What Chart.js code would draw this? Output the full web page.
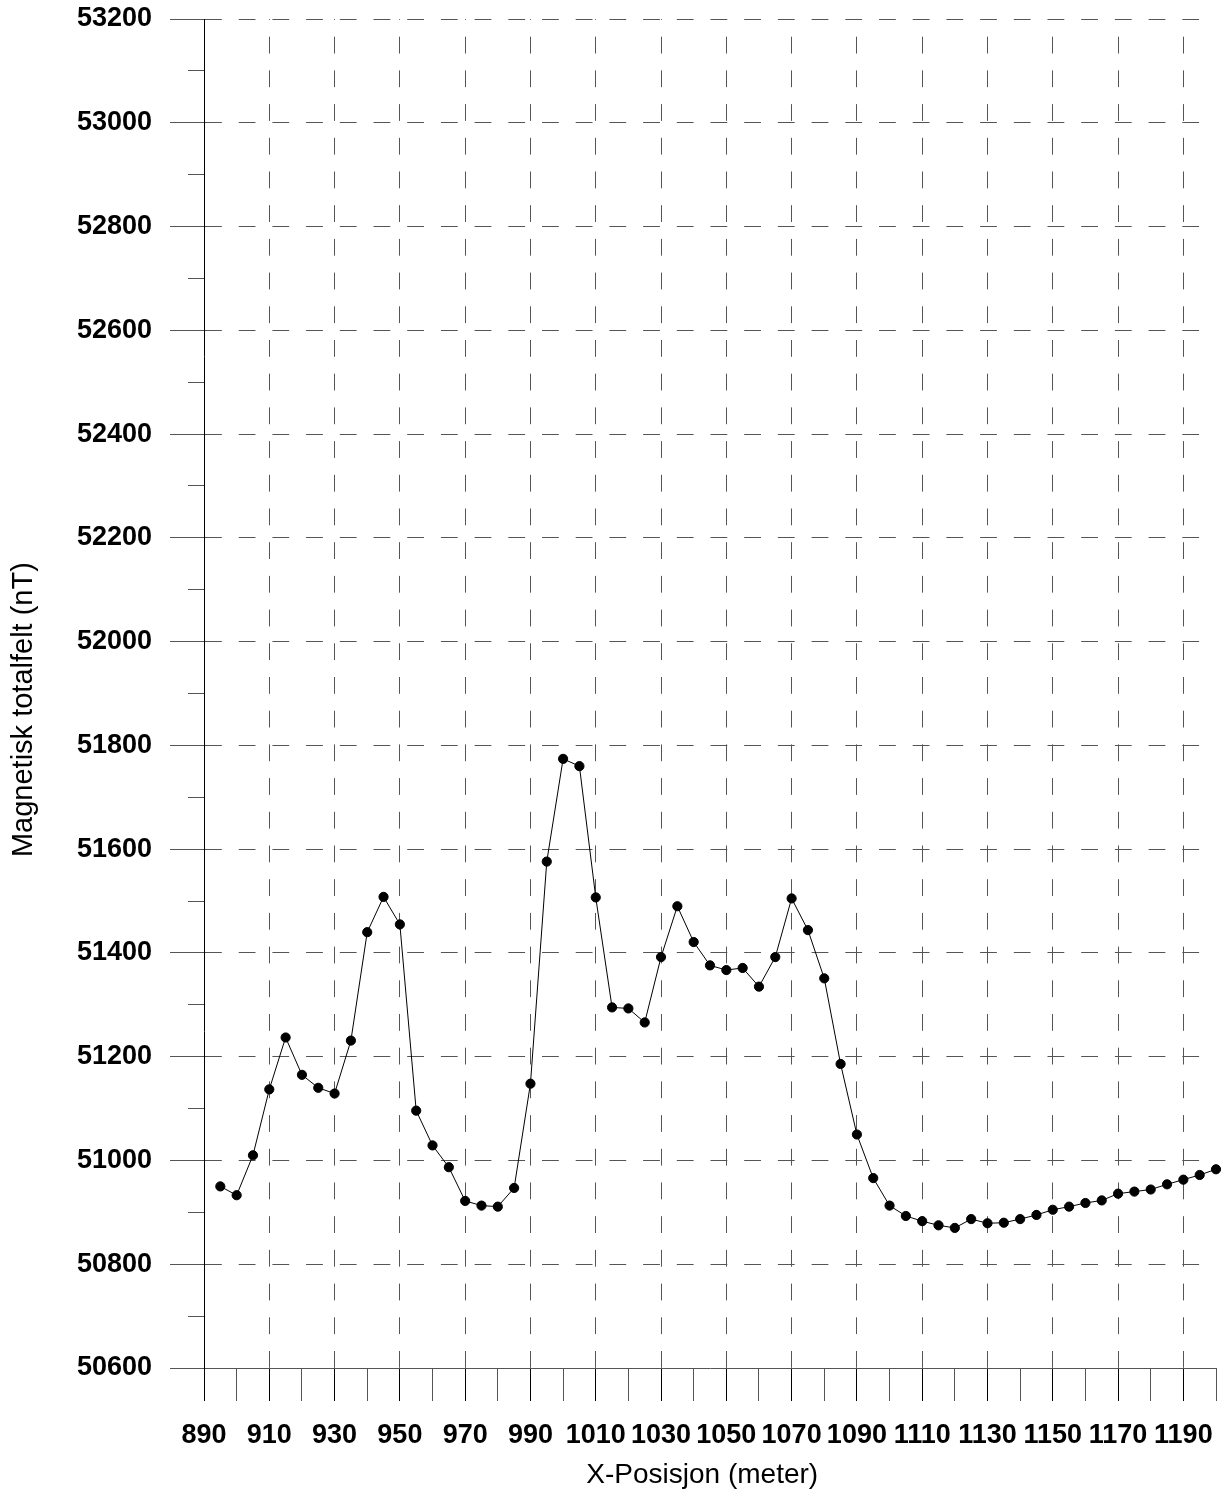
<!DOCTYPE html>
<html>
<head>
<meta charset="utf-8">
<script src="https://cdn.jsdelivr.net/npm/chart.js@4.4.1/dist/chart.umd.min.js"></script>
<style>
  body { margin: 0; background: #fff; }
  #wrap { width: 1224px; height: 1497px; }
</style>
</head>
<body>
<div id="wrap"><canvas id="profil" width="1224" height="1497"></canvas></div>
<script>
// posisjon langs profilet (meter)
const posisjon = [
  895, 900, 905, 910, 915, 920, 925, 930, 935, 940,
  945, 950, 955, 960, 965, 970, 975, 980, 985, 990,
  995, 1000, 1005, 1010, 1015, 1020, 1025, 1030, 1035, 1040,
  1045, 1050, 1055, 1060, 1065, 1070, 1075, 1080, 1085, 1090,
  1095, 1100, 1105, 1110, 1115, 1120, 1125, 1130, 1135, 1140,
  1145, 1150, 1155, 1160, 1165, 1170, 1175, 1180, 1185, 1190,
  1195, 1200
]
// magnetisk totalfelt (nT)
const totalfelt = [
  50950, 50933, 51010, 51137, 51237, 51165, 51140, 51129, 51231, 51440,
  51508, 51455, 51096, 51029, 50987, 50922, 50913, 50911, 50947, 51148,
  51576, 51774, 51760, 51507, 51295, 51293, 51266, 51392, 51490, 51421,
  51376, 51367, 51371, 51335, 51392, 51505, 51444, 51351, 51186, 51050,
  50966, 50913, 50893, 50883, 50875, 50870, 50887, 50879, 50880, 50887,
  50895, 50905, 50911, 50918, 50923, 50936, 50940, 50944, 50954, 50963,
  50972, 50983
]
const xMin = 890
const xMax = 1200
const yMin = 50600
const yMax = 53200

const fontFam = "'Liberation Sans', Arial, Helvetica, sans-serif"
const grey = '#555555'

function punkter(xs, ys) {
  let p = []
  for (let i = 0; i < xs.length; i++) {
    p.push({ x: xs[i], y: ys[i] })
  }
  return p
}

function erHoved(v) {
  return Math.round(v - xMin) % 20 === 0
}

const data = {
  datasets: [{
    label: 'Totalfelt',
    data: punkter(posisjon, totalfelt),
    borderColor: '#000',
    backgroundColor: '#000',
    borderWidth: 1,
    pointRadius: 4.6,
    pointBorderWidth: 1,
    pointBackgroundColor: '#000',
    pointBorderColor: '#000',
    tension: 0,
    clip: false,
    yAxisID: 'y'
  }]
}

const config = {
  type: 'line',
  data: data,
  options: {
    responsive: false,
    animation: false,
    layout: { padding: { top: 19, right: 8, bottom: 0, left: 0 } },
    plugins: { legend: { display: false }, tooltip: { enabled: false } },
    scales: {
      x: {
        type: 'linear',
        position: 'bottom',
        min: xMin,
        max: xMax,
        afterFit: s => { s.height = 129; s.paddingLeft = 0; s.paddingRight = 0 },
        border: { display: true, color: grey, width: 1, dash: [16.8, 16.9], dashOffset: 16 },
        grid: {
          color: c => (erHoved(c.tick.value) && c.tick.value !== xMin) ? grey : 'rgba(0,0,0,0)',
          lineWidth: 1,
          tickLength: 33,
          tickWidth: 1,
          tickColor: c => erHoved(c.tick.value) ? '#000' : grey,
          tickBorderDash: []
        },
        ticks: {
          stepSize: 10,
          autoSkip: false,
          maxRotation: 0,
          minRotation: 0,
          padding: 18,
          color: '#000',
          font: { family: fontFam, size: 27, weight: 'bold' },
          callback: v => erHoved(v) ? String(v) : ''
        },
        title: {
          display: true,
          text: 'X-Posisjon (meter)  ',
          color: '#000',
          font: { family: fontFam, size: 28, weight: 'normal' },
          padding: { top: 0, bottom: 5 }
        }
      },
      y: {
        type: 'linear',
        position: 'left',
        weight: 1,
        min: yMin,
        max: yMax,
        afterFit: s => { s.width = 204; s.paddingTop = 0; s.paddingBottom = 0 },
        border: { display: true, color: '#000', width: 1, dash: [16.8, 16.9], dashOffset: 0 },
        grid: {
          color: c => c.tick.value === yMin ? 'rgba(0,0,0,0)' : grey,
          lineWidth: 1,
          tickLength: 34,
          tickColor: grey,
          tickBorderDash: []
        },
        ticks: {
          stepSize: 200,
          padding: 18,
          color: '#000',
          font: { family: fontFam, size: 27, weight: 'bold' },
          callback: v => String(v)
        },
        title: {
          display: true,
          text: 'Magnetisk totalfelt (nT)    ',
          color: '#000',
          font: { family: fontFam, size: 29, weight: 'normal' },
          padding: { top: 7, bottom: 0 }
        }
      },
      ySmaa: {
        type: 'linear',
        position: 'left',
        weight: 0,
        min: yMin,
        max: yMax,
        afterFit: s => { s.width = 0; s.paddingTop = 0; s.paddingBottom = 0 },
        border: { display: false },
        grid: {
          drawOnChartArea: false,
          tickLength: 16,
          tickColor: grey,
          tickBorderDash: []
        },
        ticks: { stepSize: 100, display: false }
      }
    }
  }
}

let ctx = document.getElementById('profil').getContext('2d')
new Chart(ctx, config)
</script>
</body>
</html>
